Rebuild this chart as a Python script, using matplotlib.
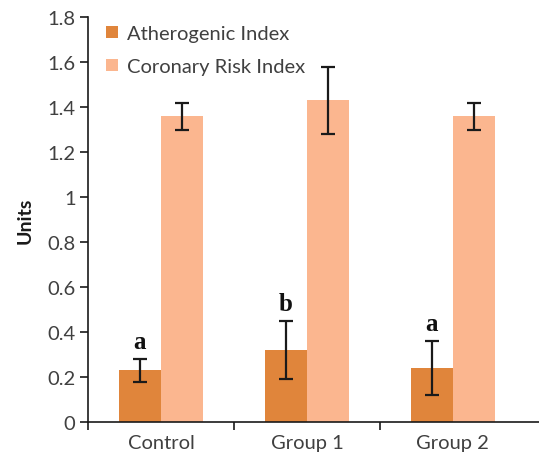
import matplotlib
matplotlib.use("Agg")
import matplotlib.pyplot as plt
import numpy as np

categories = ["Control", "Group 1", "Group 2"]
atherogenic = [0.23, 0.32, 0.24]
atherogenic_lo = [0.18, 0.19, 0.12]
atherogenic_hi = [0.28, 0.45, 0.36]
coronary = [1.36, 1.43, 1.36]
coronary_lo = [1.30, 1.28, 1.30]
coronary_hi = [1.42, 1.58, 1.42]
sig_letters = ["a", "b", "a"]
yticks = [0, 0.2, 0.4, 0.6, 0.8, 1, 1.2, 1.4, 1.6, 1.8]

dark = "#E0853B"
light = "#FBB68F"
text_col = "#404040"

plt.rcParams["font.family"] = ["Lato", "DejaVu Sans"]

fig = plt.figure(figsize=(5.39, 4.60), dpi=100)
ax = fig.add_axes([88 / 539, 37 / 460, 1 - 88 / 539, 405 / 460])

x = np.arange(len(categories))
w = 0.29
ath_err = [np.array(atherogenic) - np.array(atherogenic_lo),
           np.array(atherogenic_hi) - np.array(atherogenic)]
cor_err = [np.array(coronary) - np.array(coronary_lo),
           np.array(coronary_hi) - np.array(coronary)]

ax.bar(x - w / 2, atherogenic, w, color=dark, label="Atherogenic Index",
       yerr=ath_err, error_kw=dict(ecolor="#1a1a1a", elinewidth=1.6, capsize=5, capthick=1.6))
ax.bar(x + w / 2, coronary, w, color=light, label="Coronary Risk Index",
       yerr=cor_err, error_kw=dict(ecolor="#1a1a1a", elinewidth=1.6, capsize=5, capthick=1.6))

for xi, hi, letter in zip(x, atherogenic_hi, sig_letters):
    ax.text(xi - w / 2, hi + 0.025, letter, ha="center", va="bottom",
            fontsize=18, fontweight="bold", family="Liberation Serif", color="#111111")

ax.set_xlim(-0.5, 2.59)
ax.set_ylim(0, 1.8)
ax.set_yticks(yticks)
ax.set_yticklabels([f"{t:g}" for t in yticks], fontsize=14.5, color=text_col)
ax.set_xticks(x)
ax.set_xticklabels(categories, fontsize=14.5, color=text_col)
ax.tick_params(axis="x", length=0, pad=9)
ax.set_xticks([-0.5, 0.5, 1.5], minor=True)
ax.tick_params(axis="x", which="minor", length=6, width=1.2, color="#1a1a1a", direction="out")
ax.tick_params(axis="y", length=6, width=1.2, color="#1a1a1a", direction="out", pad=3)
ax.set_ylabel("Units", fontsize=14, fontweight="bold", color="#1a1a1a", labelpad=10)

for side in ("top", "right"):
    ax.spines[side].set_visible(False)
for side in ("left", "bottom"):
    ax.spines[side].set_linewidth(1.2)
    ax.spines[side].set_color("#1a1a1a")

ax.legend(loc="upper left", bbox_to_anchor=(0.0, 1.025), frameon=False, fontsize=14.5,
          handlelength=0.6, handleheight=0.6, handletextpad=0.45, labelspacing=0.8,
          labelcolor=text_col)

fig.savefig("out.png", dpi=100)
